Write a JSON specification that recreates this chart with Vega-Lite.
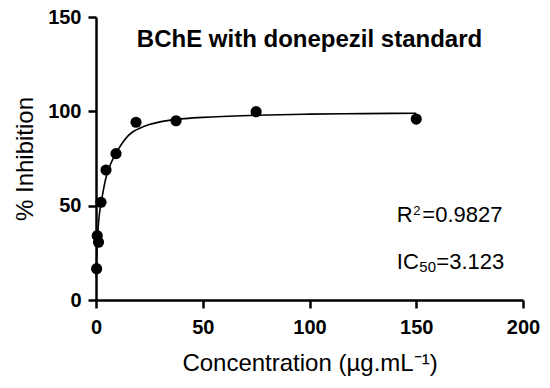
{
  "$schema": "https://vega.github.io/schema/vega-lite/v6.json",
  "width": 427,
  "height": 283,
  "autosize": {"type": "none"},
  "padding": {"left": 96, "top": 17, "right": 27, "bottom": 88},
  "background": "white",
  "config": {
    "view": {"stroke": null},
    "font": "Liberation Sans",
    "axis": {
      "grid": false,
      "domainColor": "black",
      "domainWidth": 2.5,
      "tickColor": "black",
      "tickWidth": 2.5,
      "tickSize": 8,
      "labelColor": "black",
      "labelFont": "Liberation Sans",
      "labelFontSize": 20,
      "labelFontWeight": "bold",
      "labelFlush": false,
      "titleColor": "black",
      "titleFont": "Liberation Sans",
      "titleFontSize": 24,
      "titleFontWeight": "normal"
    }
  },
  "datasets": {
    "points": [
      {"conc": 0.293, "inhibition": 16.6},
      {"conc": 0.586, "inhibition": 34.1},
      {"conc": 1.17, "inhibition": 30.6},
      {"conc": 2.34, "inhibition": 51.8},
      {"conc": 4.69, "inhibition": 68.9},
      {"conc": 9.375, "inhibition": 77.6},
      {"conc": 18.75, "inhibition": 94.2},
      {"conc": 37.5, "inhibition": 95.0},
      {"conc": 75, "inhibition": 99.8},
      {"conc": 150, "inhibition": 95.9}
    ],
    "curve": [
      {"conc": 0.1, "inhibition": 12},
      {"conc": 0.3, "inhibition": 20},
      {"conc": 0.6, "inhibition": 31},
      {"conc": 1.0, "inhibition": 38},
      {"conc": 1.5, "inhibition": 44.5},
      {"conc": 2.0, "inhibition": 49},
      {"conc": 2.7, "inhibition": 53.5},
      {"conc": 3.5, "inhibition": 58.5},
      {"conc": 4.5, "inhibition": 64},
      {"conc": 5.5, "inhibition": 68},
      {"conc": 7.0, "inhibition": 72.5},
      {"conc": 8.5, "inhibition": 76},
      {"conc": 10, "inhibition": 79},
      {"conc": 12.5, "inhibition": 83.5},
      {"conc": 15, "inhibition": 87},
      {"conc": 17.5, "inhibition": 89.3},
      {"conc": 20, "inhibition": 90.8},
      {"conc": 25, "inhibition": 93},
      {"conc": 30, "inhibition": 94.4},
      {"conc": 40, "inhibition": 96},
      {"conc": 50, "inhibition": 96.8},
      {"conc": 75, "inhibition": 97.9},
      {"conc": 100, "inhibition": 98.5},
      {"conc": 125, "inhibition": 98.8},
      {"conc": 150, "inhibition": 99}
    ],
    "labels": [
      {"x": 100, "y": 134.3, "text": "BChE with donepezil standard", "part": "title"},
      {"x": 140.9, "y": 41.2, "text": "R", "part": "base"},
      {"x": 140.9, "y": 41.2, "text": "2", "part": "sup"},
      {"x": 140.9, "y": 41.2, "text": "=0.9827", "part": "rest1"},
      {"x": 140.9, "y": 16.4, "text": "IC", "part": "base"},
      {"x": 140.9, "y": 16.4, "text": "50", "part": "sub"},
      {"x": 140.9, "y": 16.4, "text": "=3.123", "part": "rest2"}
    ]
  },
  "encoding": {
    "x": {
      "field": "conc", "type": "quantitative",
      "scale": {"domain": [0, 200], "nice": false},
      "axis": {"values": [0, 50, 100, 150, 200], "title": "Concentration (µg.mL⁻¹)", "labelPadding": 9, "titlePadding": 14}
    },
    "y": {
      "field": "inhibition", "type": "quantitative",
      "scale": {"domain": [0, 150], "nice": false},
      "axis": {"values": [0, 50, 100, 150], "title": "% Inhibition", "labelPadding": 7, "titlePadding": 10}
    }
  },
  "layer": [
    {
      "data": {"name": "curve"},
      "mark": {"type": "line", "color": "black", "strokeWidth": 1.6, "interpolate": "monotone"}
    },
    {
      "data": {"name": "points"},
      "mark": {"type": "point", "filled": true, "color": "black", "opacity": 1, "size": 125, "shape": "circle"}
    },
    {
      "data": {"name": "labels"},
      "transform": [{"filter": "datum.part == 'title'"}],
      "mark": {"type": "text", "fontSize": 24, "fontWeight": "bold", "color": "black", "align": "center", "baseline": "alphabetic"},
      "encoding": {
        "x": {"field": "x", "type": "quantitative"},
        "y": {"field": "y", "type": "quantitative"},
        "text": {"field": "text"}
      }
    },
    {
      "data": {"name": "labels"},
      "transform": [{"filter": "datum.part == 'base'"}],
      "mark": {"type": "text", "fontSize": 22, "color": "black", "align": "left", "baseline": "alphabetic"},
      "encoding": {
        "x": {"field": "x", "type": "quantitative"},
        "y": {"field": "y", "type": "quantitative"},
        "text": {"field": "text"}
      }
    },
    {
      "data": {"name": "labels"},
      "transform": [{"filter": "datum.part == 'sup'"}],
      "mark": {"type": "text", "fontSize": 13, "color": "black", "align": "left", "baseline": "alphabetic", "dx": 16.5, "dy": -7.5},
      "encoding": {
        "x": {"field": "x", "type": "quantitative"},
        "y": {"field": "y", "type": "quantitative"},
        "text": {"field": "text"}
      }
    },
    {
      "data": {"name": "labels"},
      "transform": [{"filter": "datum.part == 'rest1'"}],
      "mark": {"type": "text", "fontSize": 22, "color": "black", "align": "left", "baseline": "alphabetic", "dx": 25.5},
      "encoding": {
        "x": {"field": "x", "type": "quantitative"},
        "y": {"field": "y", "type": "quantitative"},
        "text": {"field": "text"}
      }
    },
    {
      "data": {"name": "labels"},
      "transform": [{"filter": "datum.part == 'sub'"}],
      "mark": {"type": "text", "fontSize": 15, "color": "black", "align": "left", "baseline": "alphabetic", "dx": 22.5, "dy": 3.3},
      "encoding": {
        "x": {"field": "x", "type": "quantitative"},
        "y": {"field": "y", "type": "quantitative"},
        "text": {"field": "text"}
      }
    },
    {
      "data": {"name": "labels"},
      "transform": [{"filter": "datum.part == 'rest2'"}],
      "mark": {"type": "text", "fontSize": 22, "color": "black", "align": "left", "baseline": "alphabetic", "dx": 39.5},
      "encoding": {
        "x": {"field": "x", "type": "quantitative"},
        "y": {"field": "y", "type": "quantitative"},
        "text": {"field": "text"}
      }
    }
  ]
}
